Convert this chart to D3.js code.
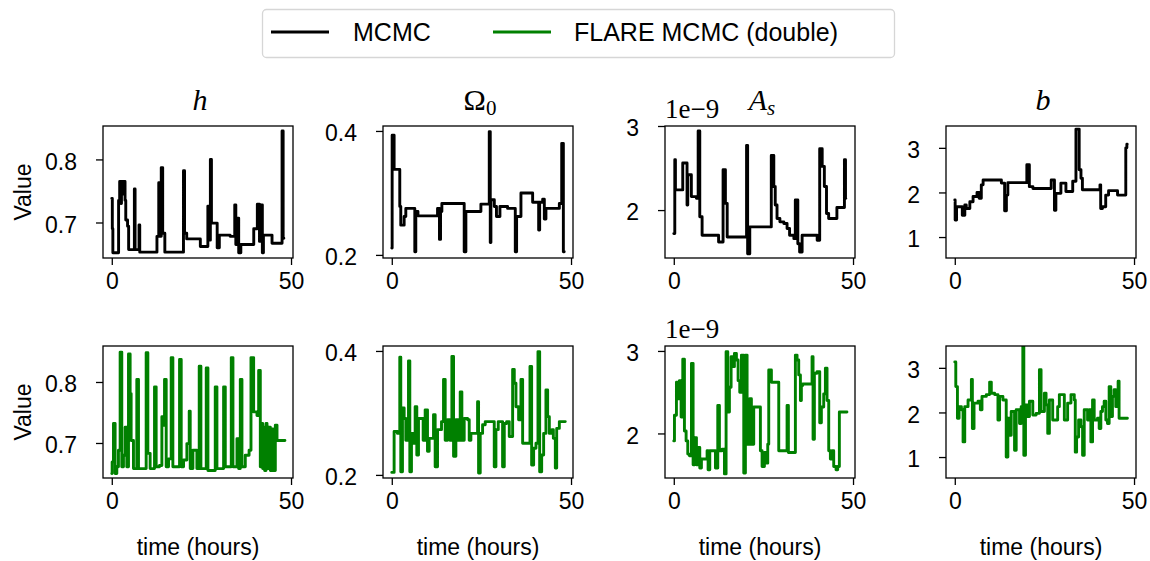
<!DOCTYPE html>
<html lang="en">
<head>
<meta charset="UTF-8">
<title>MCMC vs FLARE MCMC traces</title>
<script src="https://cdn.jsdelivr.net/npm/d3@7"></script>
<style>
  body { margin: 0; background: #fff; }
  svg text { font-family: "Liberation Sans", Arial, sans-serif; fill: #000; }
  .serif { font-family: "Liberation Serif", "Times New Roman", serif; }
</style>
</head>
<body>
<svg id="chart"></svg>
<script>
// ---- data: [time (hours), value] ----
const hMCMC = [[0,0.738],[0.15,0.69],[0.3,0.652],[1.9,0.735],[2.2,0.765],[2.5,0.73],[2.7,0.765],[3.0,0.745],[3.3,0.765],[3.7,0.735],[3.9,0.704],[4.4,0.694],[4.7,0.657],[6.3,0.753],[6.5,0.657],[7.6,0.696],[7.8,0.653],[12.6,0.678],[13.1,0.763],[13.4,0.678],[13.8,0.787],[14.2,0.683],[14.8,0.653],[20.0,0.782],[20.3,0.683],[20.9,0.674],[24.7,0.662],[26.8,0.726],[27.1,0.672],[27.5,0.80],[27.8,0.699],[29.4,0.66],[30.0,0.68],[33.0,0.678],[34.3,0.728],[34.6,0.665],[35.0,0.707],[35.4,0.652],[36.0,0.665],[39.6,0.69],[40.6,0.729],[41.2,0.67],[41.5,0.728],[42.0,0.652],[42.3,0.68],[44.7,0.667],[47.5,0.845],[47.8,0.675],[48.0,0.675]];
const hFlare = [[0,0.650],[0.1,0.669],[0.47,0.732],[0.93,0.650],[1.4,0.661],[1.86,0.688],[2.33,0.849],[2.79,0.661],[3.26,0.680],[3.72,0.726],[4.19,0.661],[4.66,0.846],[5.12,0.781],[5.4,0.704],[6.05,0.658],[6.98,0.804],[7.45,0.658],[9.59,0.848],[10.06,0.683],[10.7,0.658],[11.92,0.792],[12.38,0.661],[13.31,0.663],[13.97,0.743],[14.3,0.729],[14.71,0.804],[15.18,0.661],[15.83,0.674],[16.57,0.840],[17.04,0.661],[18.9,0.837],[19.37,0.661],[20.02,0.672],[20.95,0.699],[21.6,0.752],[21.88,0.658],[22.63,0.688],[23.74,0.658],[24.39,0.826],[24.86,0.658],[26.35,0.823],[26.82,0.655],[28.86,0.792],[29.33,0.658],[31.19,0.792],[31.66,0.661],[33.33,0.840],[33.8,0.661],[34.92,0.707],[35.38,0.658],[35.85,0.804],[36.31,0.661],[37.24,0.680],[38.3,0.688],[38.83,0.840],[39.57,0.751],[40.5,0.745],[40.97,0.819],[41.43,0.661],[41.71,0.732],[42.09,0.658],[42.36,0.726],[42.64,0.655],[43.02,0.732],[43.3,0.658],[43.76,0.726],[44.23,0.655],[44.5,0.723],[44.97,0.655],[45.62,0.729],[46.09,0.704],[48.3,0.704]];

const omegaMCMC = [[0,0.211],[0.1,0.393],[0.65,0.338],[2.23,0.278],[2.51,0.248],[3.45,0.262],[3.91,0.275],[6.42,0.205],[6.7,0.270],[7.3,0.263],[12.76,0.275],[13.3,0.225],[13.6,0.270],[13.97,0.283],[20.2,0.205],[20.67,0.270],[24.86,0.282],[27.19,0.399],[27.47,0.220],[27.65,0.289],[28.6,0.278],[29.2,0.262],[30.17,0.278],[32.3,0.275],[34.45,0.205],[34.82,0.262],[36.03,0.300],[39.29,0.285],[40.97,0.240],[41.25,0.285],[42.09,0.290],[42.55,0.258],[43.0,0.275],[46.74,0.283],[47.4,0.380],[47.86,0.205],[48.1,0.205]];
const omegaFlare = [[0,0.204],[0.65,0.270],[1.58,0.267],[2.23,0.390],[2.51,0.205],[2.98,0.308],[3.45,0.291],[3.91,0.256],[4.66,0.384],[5.03,0.205],[5.49,0.267],[6.05,0.251],[6.52,0.310],[6.98,0.232],[7.45,0.291],[8.75,0.256],[9.31,0.305],[9.96,0.238],[10.43,0.259],[11.64,0.297],[12.1,0.213],[12.76,0.273],[13.87,0.286],[14.43,0.354],[14.9,0.256],[15.55,0.289],[16.2,0.256],[16.76,0.391],[17.23,0.230],[17.88,0.289],[18.53,0.256],[19.09,0.334],[19.55,0.256],[20.2,0.291],[21.14,0.289],[21.6,0.256],[22.07,0.267],[23.93,0.318],[24.21,0.203],[24.67,0.267],[25.33,0.281],[26.07,0.286],[28.58,0.213],[29.05,0.273],[29.7,0.286],[30.91,0.213],[31.38,0.283],[32.03,0.286],[32.77,0.262],[33.71,0.370],[34.17,0.348],[34.64,0.310],[35.38,0.289],[36.03,0.354],[36.5,0.251],[38.55,0.375],[39.01,0.216],[39.57,0.243],[40.22,0.251],[40.78,0.399],[41.25,0.205],[41.81,0.232],[42.36,0.267],[43.0,0.337],[43.48,0.294],[43.95,0.267],[44.69,0.273],[45.07,0.259],[45.62,0.211],[46.0,0.275],[46.74,0.286],[48.4,0.286]];

// A_s values in units of 1e-9
const asMCMC = [[0,1.72],[0.28,2.60],[0.46,2.24],[2.5,2.56],[3.7,2.06],[3.9,2.42],[4.9,2.16],[6.3,2.14],[6.8,2.94],[7.25,1.92],[7.9,1.70],[12.5,1.62],[13.75,2.48],[14.4,2.08],[14.9,1.68],[20.3,2.77],[20.6,1.48],[21.2,1.80],[27.2,2.65],[27.9,2.28],[28.3,2.06],[28.8,1.90],[29.6,1.86],[30.7,1.84],[31.6,1.78],[32.3,1.70],[33.5,1.66],[33.9,2.12],[34.6,1.60],[35.1,1.50],[35.8,1.70],[40.0,1.64],[40.7,2.73],[41.4,2.52],[42.0,2.28],[42.6,1.96],[43.2,1.90],[45.5,2.03],[47.4,2.03],[47.6,2.60],[47.9,2.14],[48.0,2.14]];
const asFlare = [[0,1.91],[0.19,2.22],[0.74,2.62],[1.12,2.42],[1.58,2.64],[2.04,2.20],[2.51,2.90],[2.97,2.03],[3.44,1.91],[3.9,1.75],[4.37,1.73],[4.93,2.85],[5.39,1.62],[5.86,1.95],[6.32,1.62],[6.78,1.83],[7.25,1.58],[7.71,1.69],[9.29,1.79],[9.57,1.56],[10.04,1.79],[11.62,1.58],[12.27,2.34],[12.73,1.79],[13.48,1.81],[14.13,1.51],[14.59,2.99],[15.06,2.26],[15.52,2.56],[15.99,2.93],[16.45,2.81],[16.91,2.97],[17.47,2.89],[17.94,2.64],[18.4,2.50],[18.87,2.95],[19.52,1.52],[19.98,2.95],[20.45,1.87],[21.19,2.42],[21.65,1.87],[22.3,2.32],[24.16,1.79],[24.63,1.60],[25.28,1.77],[25.84,1.64],[26.21,1.87],[26.49,2.77],[27.23,2.62],[29.28,1.79],[31.6,2.34],[31.97,1.77],[33.92,2.95],[34.39,2.89],[34.85,2.71],[35.32,2.40],[35.59,2.58],[35.97,2.60],[38.57,2.93],[38.85,1.93],[39.22,2.73],[39.96,2.75],[40.71,2.13],[41.17,2.32],[41.82,2.48],[42.29,2.79],[42.75,2.40],[43.22,1.79],[43.68,1.69],[44.14,1.79],[44.61,1.60],[45.26,1.56],[45.72,1.60],[46.19,2.26],[48.3,2.26]];

const bMCMC = [[0,1.83],[0.1,1.38],[0.5,1.68],[2.1,1.49],[2.8,1.72],[3.2,1.64],[4.2,1.79],[5.1,1.91],[6.2,2.0],[6.8,1.87],[7.4,2.17],[7.9,2.28],[13.0,2.21],[13.9,1.59],[14.4,1.94],[14.8,2.22],[20.1,2.62],[20.8,2.13],[21.8,2.09],[26.9,2.28],[27.8,1.60],[28.2,1.98],[29.6,2.21],[31.0,2.02],[32.9,2.25],[33.8,3.42],[34.7,2.51],[35.2,2.32],[35.6,2.06],[40.5,2.17],[40.7,1.64],[41.2,1.68],[42.1,1.94],[42.9,2.04],[45.4,1.94],[47.7,3.0],[48.0,3.08],[48.1,3.08]];
const bFlare = [[0,3.13],[0.28,2.58],[0.74,1.87],[1.2,2.13],[1.85,2.06],[2.31,1.34],[2.78,2.13],[3.7,2.28],[4.63,2.74],[4.91,1.64],[5.37,2.21],[6.48,2.25],[7.13,2.06],[7.59,2.36],[8.8,2.40],[9.72,2.68],[10.19,2.43],[11.11,2.40],[12.04,1.83],[12.5,2.36],[13.43,2.28],[14.35,1.0],[14.81,1.87],[15.28,1.49],[15.74,2.02],[16.67,1.15],[17.13,2.06],[18.06,1.75],[18.52,2.13],[18.98,3.49],[19.26,1.04],[19.72,2.17],[20.37,1.91],[20.83,2.25],[21.76,1.94],[22.69,1.98],[23.61,2.96],[24.07,2.02],[25.0,2.43],[25.46,2.17],[25.93,1.53],[26.39,2.28],[27.31,1.83],[28.7,2.13],[29.17,2.40],[30.56,1.83],[31.48,2.21],[32.41,2.40],[33.33,2.28],[33.61,1.11],[33.98,1.45],[34.54,1.83],[35.19,1.68],[35.65,1.04],[36.11,2.06],[37.04,1.83],[37.5,2.06],[37.96,1.34],[38.43,2.28],[38.89,1.83],[39.81,1.87],[40.28,1.64],[40.74,2.02],[41.2,2.13],[41.67,2.25],[42.13,1.83],[42.59,1.75],[43.06,2.58],[43.52,1.91],[43.98,2.36],[44.44,2.51],[44.91,2.13],[45.56,2.70],[45.83,1.87],[48.15,1.87]];

// tick labels
const xTicks = [0, 50];
const hTicks = [0.7, 0.8];
const omegaTicks = [0.2, 0.4];
const asTicks = [2, 3];
const bTicks = [1, 2, 3];

const seriesNames = ['MCMC', 'FLARE MCMC (double)'];
const seriesColors = ['#000000', '#008000'];

// ---- layout ----
const width = 1150, height = 561;
const colLeft = [103, 383, 665, 946];
const rowTop = [126, 346];
const plotW = 190, plotH = 132;

const svg = d3.select('#chart').attr('width', width).attr('height', height);

const panels = [
  {col: 0, row: 0, data: hMCMC,     ticks: hTicks,     ylim: [0.6437, 0.853]},
  {col: 1, row: 0, data: omegaMCMC, ticks: omegaTicks, ylim: [0.195, 0.408]},
  {col: 2, row: 0, data: asMCMC,    ticks: asTicks,    ylim: [1.43, 3.0]},
  {col: 3, row: 0, data: bMCMC,     ticks: bTicks,     ylim: [0.53, 3.49]},
  {col: 0, row: 1, data: hFlare,     ticks: hTicks,     ylim: [0.6426, 0.859]},
  {col: 1, row: 1, data: omegaFlare, ticks: omegaTicks, ylim: [0.195, 0.408]},
  {col: 2, row: 1, data: asFlare,    ticks: asTicks,    ylim: [1.46, 3.06]},
  {col: 3, row: 1, data: bFlare,     ticks: bTicks,     ylim: [0.53, 3.49]}
];

const fmt = v => (Number.isInteger(v) ? String(v) : d3.format('.1f')(v));

panels.forEach((p, i) => {
  const left = colLeft[p.col], top = rowTop[p.row];
  const x = d3.scaleLinear().domain([-2.45, 50.55]).range([left, left + plotW]);
  const y = d3.scaleLinear().domain(p.ylim).range([top + plotH, top]);

  svg.append('clipPath').attr('id', 'clip' + i)
     .append('rect').attr('x', left).attr('y', top).attr('width', plotW).attr('height', plotH);

  // trace
  const line = d3.line().x(d => x(d[0])).y(d => y(d[1])).curve(d3.curveStepAfter);
  svg.append('path')
     .datum(p.data)
     .attr('clip-path', `url(#clip${i})`)
     .attr('d', line)
     .attr('fill', 'none')
     .attr('stroke', seriesColors[p.row])
     .attr('stroke-width', 2.9)
     .attr('stroke-linejoin', 'round')
     .attr('stroke-linecap', 'round');

  // axes
  const gx = svg.append('g').attr('transform', `translate(0,${top + plotH})`)
     .call(d3.axisBottom(x).tickValues(xTicks).tickSize(7).tickPadding(4).tickFormat(fmt));
  gx.selectAll('text').attr('font-size', 23).attr('dy', '0.85em');
  const gy = svg.append('g').attr('transform', `translate(${left},0)`)
     .call(d3.axisLeft(y).tickValues(p.ticks).tickSize(7).tickPadding(19).tickFormat(fmt));
  gy.selectAll('text').attr('font-size', 23).attr('dy', '0.42em');
  [gx, gy].forEach(g => {
    g.select('.domain').remove();
    g.selectAll('.tick line').attr('stroke', '#000').attr('stroke-width', 1.3);
    g.attr('font-family', null);
  });

  // frame
  svg.append('rect')
     .attr('x', left).attr('y', top).attr('width', plotW).attr('height', plotH)
     .attr('fill', 'none').attr('stroke', '#000').attr('stroke-width', 1.3);

  // offset text for A_s
  if (p.col === 2) {
    svg.append('text').attr('class', 'serif')
       .attr('x', left).attr('y', top - 8)
       .attr('font-size', 27)
       .text('1e\u22129');
  }
  if (p.row === 1) {
    svg.append('text')
       .attr('x', left + plotW / 2).attr('y', 555)
       .attr('text-anchor', 'middle').attr('font-size', 23)
       .text('time (hours)');
  }
  if (p.col === 0) {
    svg.append('text')
       .attr('transform', `translate(31,${top + plotH / 2}) rotate(-90)`)
       .attr('text-anchor', 'middle').attr('font-size', 23)
       .text('Value');
  }
});

// column titles
const titleY = 110;
const titles = [
  {col: 0, parts: [{t: 'h', italic: true}]},
  {col: 1, parts: [{t: '\u03A9', italic: false}, {t: '0', italic: false, sub: true}]},
  {col: 2, parts: [{t: 'A', italic: true}, {t: 's', italic: true, sub: true}]},
  {col: 3, parts: [{t: 'b', italic: true}]}
];
titles.forEach(tl => {
  const txt = svg.append('text').attr('class', 'serif')
     .attr('x', colLeft[tl.col] + plotW / 2 + 2).attr('y', titleY)
     .attr('text-anchor', 'middle').attr('font-size', 30);
  tl.parts.forEach(pt => {
    const ts = txt.append('tspan').text(pt.t)
       .attr('font-style', pt.italic ? 'italic' : 'normal');
    if (pt.sub) ts.attr('font-size', 21).attr('dy', 5);
  });
});

// legend
const legend = svg.append('g');
legend.append('rect')
   .attr('x', 262.5).attr('y', 9.5).attr('width', 632).attr('height', 48).attr('rx', 4)
   .attr('fill', '#fff').attr('stroke', '#d6d6d6').attr('stroke-width', 1.3);
const legendX = [{line: 271, text: 353}, {line: 493, text: 574}];
seriesNames.forEach((name, i) => {
  legend.append('line')
     .attr('x1', legendX[i].line).attr('x2', legendX[i].line + 58)
     .attr('y1', 32).attr('y2', 32)
     .attr('stroke', seriesColors[i]).attr('stroke-width', 3);
  legend.append('text')
     .attr('x', legendX[i].text).attr('y', 41)
     .attr('font-size', 25)
     .text(name);
});
</script>
</body>
</html>
